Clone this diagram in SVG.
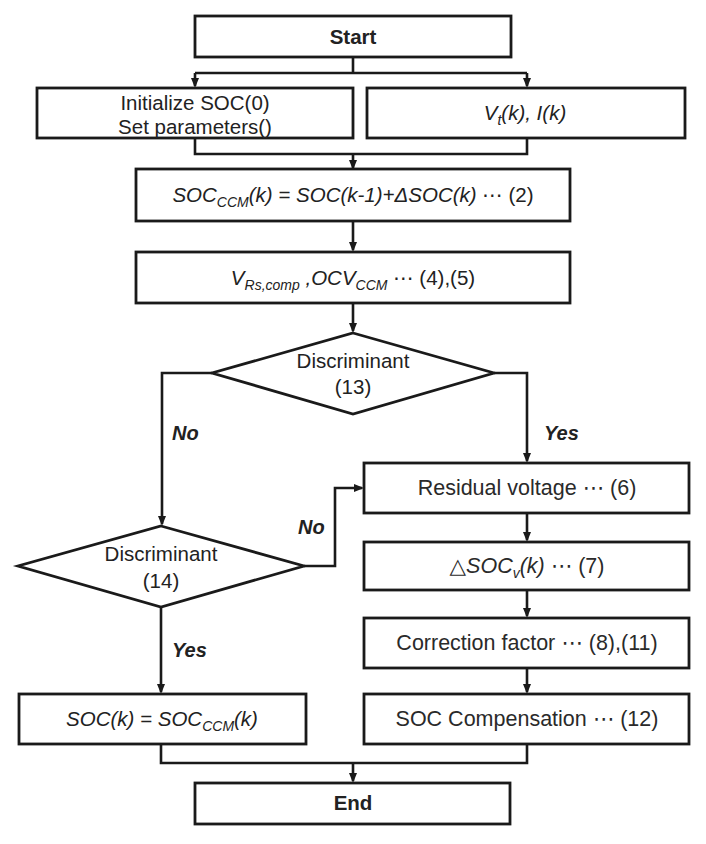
<svg xmlns="http://www.w3.org/2000/svg" width="706" height="844" viewBox="0 0 706 844">
<defs>
<style>
.box{fill:#fff;stroke:#1a1a1a;stroke-width:2.8}
.con{fill:none;stroke:#1a1a1a;stroke-width:2.6}
.ar{marker-end:url(#arr)}
text{font-family:"Liberation Sans",Arial,"DejaVu Sans",sans-serif;font-size:20.5px;fill:#222;text-anchor:middle}
.b{font-weight:bold}
.i{font-style:italic}
.n{font-style:normal}
.k{font-size:21.5px;fill:#2a2a2a}
.lbl{font-weight:bold;font-style:italic;text-anchor:start;font-size:20px}
.s{font-size:14px}
</style>
<marker id="arr" viewBox="0 0 10 8" markerWidth="10" markerHeight="8" refX="8" refY="4" orient="auto" markerUnits="userSpaceOnUse"><path d="M0,0L10,4L0,8z" fill="#1a1a1a"/></marker>
</defs>
<rect width="706" height="844" fill="#fff"/>
<g id="connectors">
<path class="con" d="M353,57V73M195,73H527"/>
<path class="con ar" d="M195,73V86"/>
<path class="con ar" d="M527,73V86"/>
<path class="con" d="M195,138V154H527V138"/>
<path class="con ar" d="M353,154V168"/>
<path class="con ar" d="M353,221V250"/>
<path class="con ar" d="M353,303V331"/>
<path class="con ar" d="M212,373H162V524"/>
<path class="con ar" d="M494,373H527V461"/>
<path class="con ar" d="M304,566H335V488H362"/>
<path class="con ar" d="M527,513V540"/>
<path class="con ar" d="M527,590V616"/>
<path class="con ar" d="M527,668V692"/>
<path class="con ar" d="M161,607V692"/>
<path class="con" d="M161,744V763H527V744"/>
<path class="con ar" d="M353,763V781"/>
<text class="lbl" x="172" y="440">No</text>
<text class="lbl" x="544" y="440">Yes</text>
<text class="lbl" x="298" y="534">No</text>
<text class="lbl" x="172" y="657">Yes</text>
</g>
<g id="start"><rect class="box" x="195" y="16" width="316" height="41"/><text class="b" x="353" y="44">Start</text></g>
<g id="init"><rect class="box" x="37" y="88" width="316" height="50"/><text x="195" y="110">Initialize SOC(0)</text><text x="195" y="134">Set parameters()</text></g>
<g id="measure"><rect class="box" x="367" y="88" width="318" height="50"/><text class="i" x="525" y="120">V<tspan class="s" dy="5">t</tspan><tspan dy="-5">(k), I(k)</tspan></text></g>
<g id="soc-ccm"><rect class="box" x="136" y="169" width="434" height="52"/><text class="i" x="353" y="202">SOC<tspan class="s" dy="5">CCM</tspan><tspan dy="-5">(k) = SOC(k-1)+ΔSOC(k) </tspan><tspan class="n">⋯ (2)</tspan></text></g>
<g id="vrs"><rect class="box" x="136" y="252" width="434" height="51"/><text class="i" x="353" y="285">V<tspan class="s" dy="5">Rs,comp</tspan><tspan dy="-5"> ,OCV</tspan><tspan class="s" dy="5">CCM</tspan><tspan class="n" dy="-5"> ⋯ (4),(5)</tspan></text></g>
<g id="disc13"><polygon class="box" points="353,333 494,373 353,414 212,373"/><text x="353" y="368">Discriminant</text><text x="353" y="394">(13)</text></g>
<g id="residual"><rect class="box" x="364" y="463" width="325" height="50"/><text class="k" x="527" y="495">Residual voltage ⋯ (6)</text></g>
<g id="disc14"><polygon class="box" points="161,526 304,566 161,607 18,566"/><text x="161" y="561">Discriminant</text><text x="161" y="588">(14)</text></g>
<g id="dsoc"><rect class="box" x="364" y="542" width="325" height="48"/><text class="i k" x="527" y="573">△SOC<tspan class="s" dy="5">v</tspan><tspan dy="-5">(k) </tspan><tspan class="n">⋯ (7)</tspan></text></g>
<g id="correction"><rect class="box" x="364" y="618" width="325" height="50"/><text class="k" x="527" y="650">Correction factor ⋯ (8),(11)</text></g>
<g id="compensation"><rect class="box" x="364" y="694" width="325" height="50"/><text class="k" x="527" y="726">SOC Compensation ⋯ (12)</text></g>
<g id="soc-final"><rect class="box" x="19" y="694" width="287" height="50"/><text class="i" x="162" y="726">SOC(k) = SOC<tspan class="s" dy="5">CCM</tspan><tspan dy="-5">(k)</tspan></text></g>
<g id="end"><rect class="box" x="195" y="783" width="315" height="41"/><text class="b" x="353" y="810">End</text></g>
</svg>
